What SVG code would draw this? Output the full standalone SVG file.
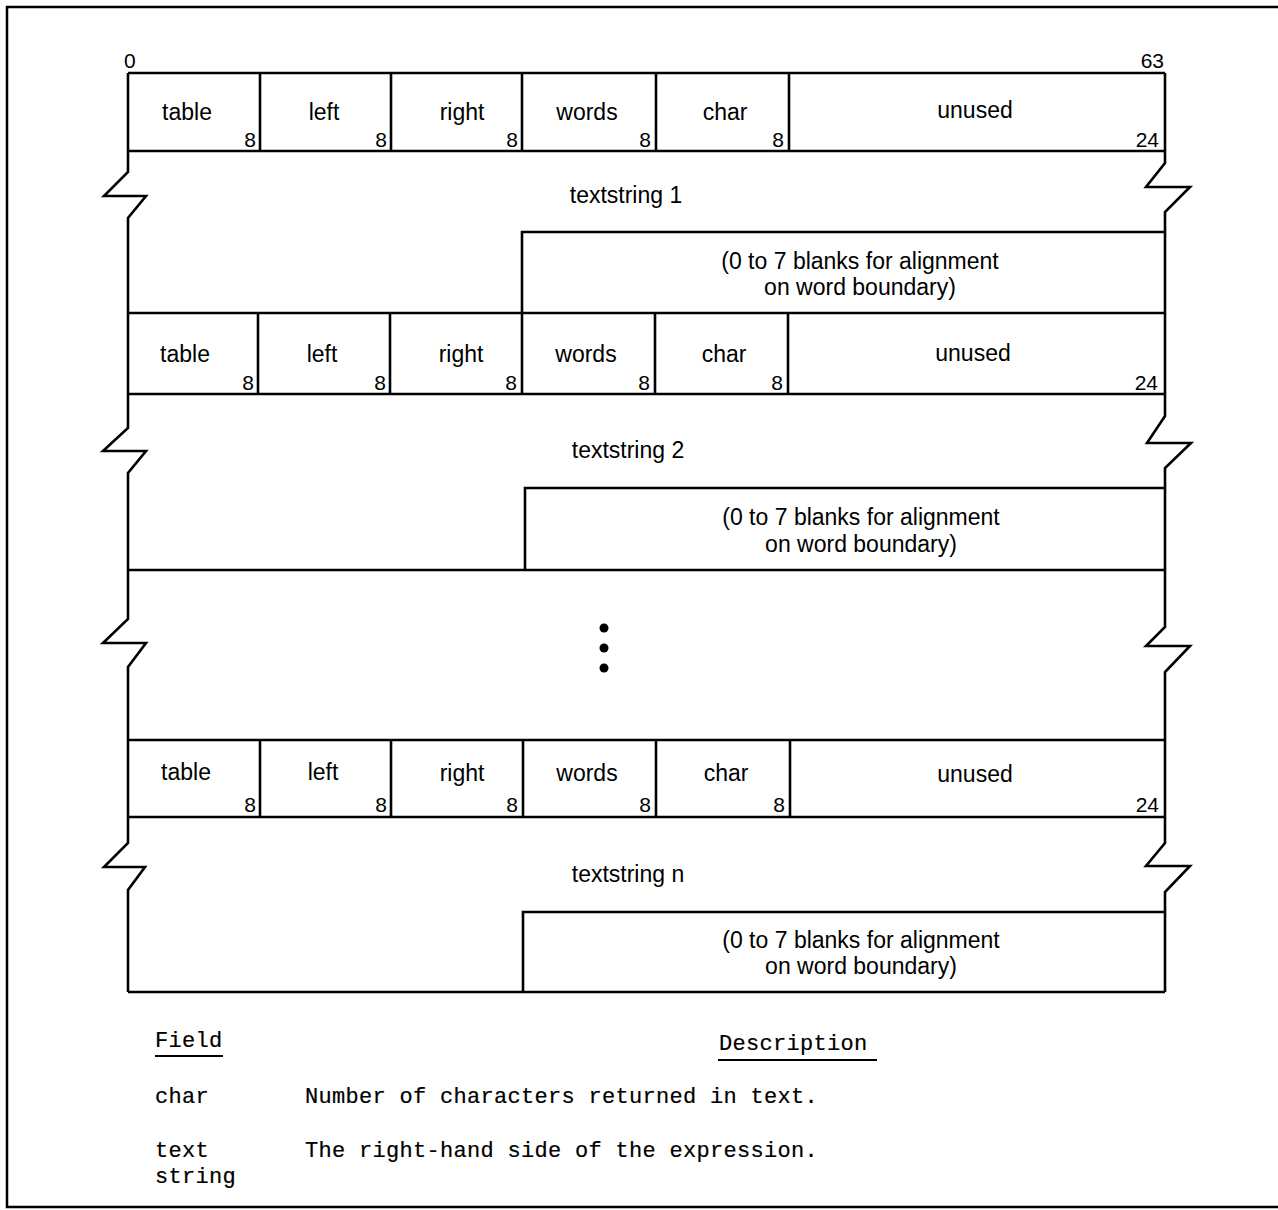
<svg xmlns="http://www.w3.org/2000/svg" width="1278" height="1210" viewBox="0 0 1278 1210">
<style>
.ln{fill:none;stroke:#000;stroke-width:2.6;stroke-linejoin:miter}
.fr{fill:none;stroke:#000;stroke-width:2.5}
.lb{font-family:"Liberation Sans",Arial,sans-serif;font-size:23px;fill:#000;text-anchor:middle}
.bt{font-family:"Liberation Sans",Arial,sans-serif;font-size:21px;fill:#000;text-anchor:end}
.mono{font-family:"Liberation Mono","Courier New",monospace;font-size:22px;fill:#000;stroke:#000;stroke-width:0.2;letter-spacing:0.3px}
</style>
<rect width="1278" height="1210" fill="#fff"/>
<g id="frame">
<path class="fr" d="M1278,7 H7 V1207 H1278"/>
</g>
<g id="scale">
<text class="bt" x="124" y="68" style="text-anchor:start">0</text>
<text class="bt" x="1164" y="68">63</text>
</g>
<g id="connectors">
<path class="ln" d="M128,73 V172 L104,196 H146 L128,218 V428 L103,451 H146 L128,473 V619 L103,643 H146 L128,667 V843 L104,867 H145 L128,890 V992"/>
<path class="ln" d="M1165,73 V163 L1146,187 H1190 L1165,212 V416 L1147,443 H1191 L1165,468 V627 L1146,646 H1190 L1165,672 V843 L1146,866 H1190 L1165,892 V992"/>
<path class="ln" d="M128,73 H1165 M128,151 H1165 M128,313 H1165 M128,394 H1165 M128,570 H1165 M128,740 H1165 M128,817 H1165 M128,992 H1165"/>
</g>
<g id="header1">
<path class="ln" d="M260,73 V151 M391,73 V151 M522,73 V151 M656,73 V151 M789,73 V151"/>
<text class="lb" x="187" y="120">table</text>
<text class="lb" x="324" y="120">left</text>
<text class="lb" x="462" y="120">right</text>
<text class="lb" x="587" y="120">words</text>
<text class="lb" x="725" y="120">char</text>
<text class="lb" x="975" y="118">unused</text>
<text class="bt" x="256" y="147">8</text>
<text class="bt" x="387" y="147">8</text>
<text class="bt" x="518" y="147">8</text>
<text class="bt" x="651" y="147">8</text>
<text class="bt" x="784" y="147">8</text>
<text class="bt" x="1159" y="147">24</text>
</g>
<g id="textstring1">
<text class="lb" x="626" y="203">textstring 1</text>
<path class="ln" d="M522,313 V232 H1165"/>
<text class="lb" x="860" y="269">(0 to 7 blanks for alignment</text>
<text class="lb" x="860" y="295">on word boundary)</text>
</g>
<g id="header2">
<path class="ln" d="M258,313 V394 M390,313 V394 M522,313 V394 M655,313 V394 M788,313 V394"/>
<text class="lb" x="185" y="362">table</text>
<text class="lb" x="322" y="362">left</text>
<text class="lb" x="461" y="362">right</text>
<text class="lb" x="586" y="362">words</text>
<text class="lb" x="724" y="362">char</text>
<text class="lb" x="973" y="361">unused</text>
<text class="bt" x="254" y="390">8</text>
<text class="bt" x="386" y="390">8</text>
<text class="bt" x="517" y="390">8</text>
<text class="bt" x="650" y="390">8</text>
<text class="bt" x="783" y="390">8</text>
<text class="bt" x="1158" y="390">24</text>
</g>
<g id="textstring2">
<text class="lb" x="628" y="458">textstring 2</text>
<path class="ln" d="M525,570 V488 H1165"/>
<text class="lb" x="861" y="525">(0 to 7 blanks for alignment</text>
<text class="lb" x="861" y="552">on word boundary)</text>
</g>
<g id="ellipsis">
<circle cx="604" cy="628" r="4.5"/>
<circle cx="604" cy="648" r="4.5"/>
<circle cx="604" cy="668" r="4.5"/>
</g>
<g id="header3">
<path class="ln" d="M260,740 V817 M391,740 V817 M523,740 V817 M656,740 V817 M790,740 V817"/>
<text class="lb" x="186" y="780">table</text>
<text class="lb" x="323" y="780">left</text>
<text class="lb" x="462" y="781">right</text>
<text class="lb" x="587" y="781">words</text>
<text class="lb" x="726" y="781">char</text>
<text class="lb" x="975" y="782">unused</text>
<text class="bt" x="256" y="812">8</text>
<text class="bt" x="387" y="812">8</text>
<text class="bt" x="518" y="812">8</text>
<text class="bt" x="651" y="812">8</text>
<text class="bt" x="785" y="812">8</text>
<text class="bt" x="1159" y="812">24</text>
</g>
<g id="textstringn">
<text class="lb" x="628" y="882">textstring n</text>
<path class="ln" d="M523,992 V912 H1165"/>
<text class="lb" x="861" y="948">(0 to 7 blanks for alignment</text>
<text class="lb" x="861" y="974">on word boundary)</text>
</g>
<g id="legend">
<text class="mono" x="155" y="1047">Field</text>
<path d="M155,1056 H223" stroke="#000" stroke-width="2"/>
<text class="mono" x="719" y="1050">Description</text>
<path d="M718,1060 H877" stroke="#000" stroke-width="2"/>
<text class="mono" x="155" y="1103">char</text>
<text class="mono" x="305" y="1103">Number of characters returned in text.</text>
<text class="mono" x="155" y="1157">text</text>
<text class="mono" x="155" y="1183">string</text>
<text class="mono" x="305" y="1157">The right-hand side of the expression.</text>
</g>
</svg>
